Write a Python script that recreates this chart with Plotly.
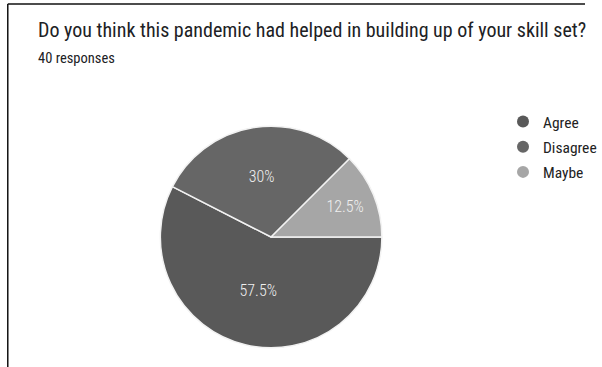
import plotly.graph_objects as go

categories = ["Agree", "Disagree", "Maybe"]
values = [57.5, 30, 12.5]
colors = ["#595959", "#666666", "#a6a6a6"]
title_text = "Do you think this pandemic had helped in building up of your skill set?"
subtitle_text = "40 responses"

W, H = 602, 367
FONT = "Roboto Condensed, Roboto, sans-serif"

def px(x):
    return x / W

def py(y):
    return 1 - y / H

cx, cy, r = 279, 237, 114

fig = go.Figure()
fig.add_trace(go.Pie(
    labels=categories,
    values=values,
    sort=False,
    direction="clockwise",
    rotation=90,
    marker=dict(colors=colors, line=dict(color="#f2f2f2", width=1.5)),
    texttemplate="%{percent:.1~%}",
    textposition="inside",
    insidetextfont=dict(color="#f0f0f0", size=16, family=FONT, weight=300),
    showlegend=False,
    domain=dict(x=[px(cx - r), px(cx + r)], y=[py(cy + r), py(cy - r)]),
    hoverinfo="label+percent",
))

for c, col in zip(categories, colors):
    fig.add_trace(go.Scatter(
        x=[None], y=[None], mode="markers", name=c,
        marker=dict(symbol="circle", size=15, color=col),
        legendgroup=c, showlegend=True,
    ))

fig.update_layout(
    width=W, height=H,
    margin=dict(l=0, r=0, t=0, b=0),
    paper_bgcolor="white", plot_bgcolor="white",
    xaxis=dict(visible=False), yaxis=dict(visible=False),
    font=dict(family=FONT, color="#222222"),
    legend=dict(
        x=px(518), y=py(105), xanchor="left", yanchor="top",
        font=dict(size=15.5, color="#222222", family=FONT, weight=400),
        tracegroupgap=2, itemsizing="constant", itemwidth=30,
        bgcolor="rgba(0,0,0,0)",
    ),
    annotations=[
        dict(text=title_text, x=px(37), y=py(30), xref="paper", yref="paper",
             xanchor="left", yanchor="middle", showarrow=False,
             font=dict(size=20, color="#202124", family=FONT, weight=400)),
        dict(text=subtitle_text, x=px(37), y=py(58), xref="paper", yref="paper",
             xanchor="left", yanchor="middle", showarrow=False,
             font=dict(size=14.5, color="#202124", family=FONT, weight=400)),
    ],
    shapes=[
        dict(type="line", xref="paper", yref="paper", x0=px(8), x1=1.0,
             y0=py(4), y1=py(4), line=dict(color="#111111", width=1.5)),
        dict(type="line", xref="paper", yref="paper", x0=px(8), x1=px(8),
             y0=py(4), y1=0, line=dict(color="#111111", width=1.5)),
    ],
)

fig.write_html("out.html")
